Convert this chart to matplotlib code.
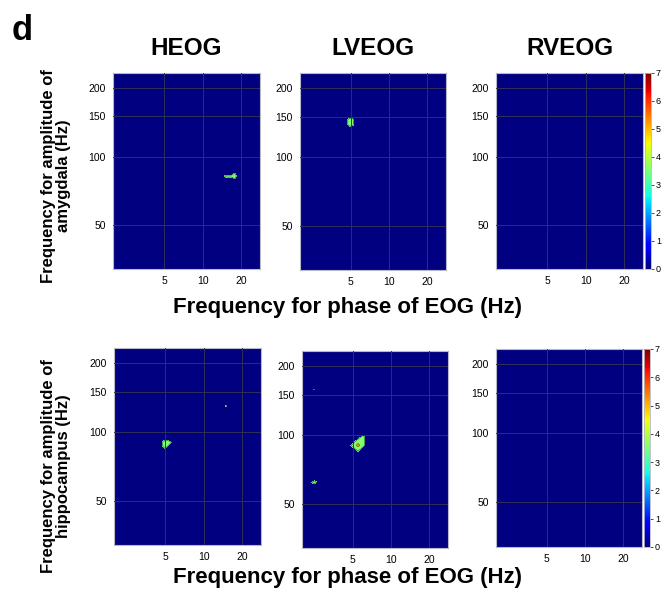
import numpy as np
import matplotlib
matplotlib.use("Agg")
import matplotlib.pyplot as plt
from matplotlib.colors import Normalize
from matplotlib.cm import ScalarMappable

plt.rcParams["font.family"] = ["Liberation Sans", "DejaVu Sans"]

# ---- data -------------------------------------------------------------
channels = ["HEOG", "LVEOG", "RVEOG"]
regions = ["amygdala", "hippocampus"]
phase_ticks = [5, 10, 20]
amp_ticks = [50, 100, 150, 200]
cbar_ticks = [0, 1, 2, 3, 4, 5, 6, 7]

# comodulogram sampling grid (Hz)
phase_hz = np.arange(2.0, 28.5, 0.5)
amp_hz = np.arange(30.0, 238.0, 4.0)

# significant modulation cells: (phase Hz, amplitude Hz, value)
cells_amy_heog = [(15.0, 82, 2.5), (15.5, 82, 2.5), (16.0, 82, 2.5), (16.5, 82, 2.5),
                  (17.0, 82, 2.6), (17.5, 82, 4.0), (18.0, 82, 4.2)]
cells_amy_lveog = [(5.0, 138, 4.0), (5.0, 142, 4.2), (5.0, 146, 4.0)]
cells_amy_rveog = []
cells_hip_heog = [(5.0, 90, 4.2), (5.0, 86, 3.0), (5.5, 90, 2.6), (15.0, 130, 2.6)]
cells_hip_lveog = [(5.5, 90, 5.2), (5.5, 94, 3.6), (6.0, 94, 3.4), (6.0, 98, 3.2),
                   (5.0, 90, 3.0), (6.0, 90, 3.4), (5.5, 86, 2.8),
                   (2.5, 158, 2.15), (2.5, 62, 2.6)]
cells_hip_rveog = []

cells = [[cells_amy_heog, cells_amy_lveog, cells_amy_rveog],
         [cells_hip_heog, cells_hip_lveog, cells_hip_rveog]]

vmin, vmax = 0, 7

# ---- layout -----------------------------------------------------------
W, H = 662, 598
fig = plt.figure(figsize=(W / 100, H / 100), dpi=100)


def rect(l, t, r, b):
    return [l / W, 1 - b / H, (r - l) / W, (b - t) / H]


panel_px = [[(113, 73, 260, 269), (300, 73, 446, 270), (496, 73, 643, 269)],
            [(114, 348, 261, 545), (302, 351, 448, 548), (496, 349, 642, 547)]]
cbar_px = [(645, 73, 651, 269), (644, 349, 650, 547)]

cmap = plt.get_cmap("jet")
norm = Normalize(vmin, vmax)
fill_levels = [2.0, 4.5, 100.0]
fill_colors = [cmap(norm(3.5)), cmap(norm(4.9))]

P, A = np.meshgrid(phase_hz, amp_hz)

for r in range(2):
    for c in range(3):
        ax = fig.add_axes(rect(*panel_px[r][c]))
        ax.set_facecolor(cmap(0.0))
        Z = np.zeros_like(P)
        for ph, am, val in cells[r][c]:
            i = np.argmin(np.abs(amp_hz - am))
            j = np.argmin(np.abs(phase_hz - ph))
            Z[i, j] = val
        if Z.max() > fill_levels[0]:
            ax.contourf(P, A, Z, levels=fill_levels, colors=fill_colors)
            ax.contour(P, A, Z, levels=fill_levels[:2], colors="#103010",
                       linewidths=0.5, alpha=0.7)
        ax.set_xscale("log")
        ax.set_yscale("log")
        ax.set_xlim(2, 28)
        ax.set_ylim(32, 233)
        ax.minorticks_off()
        ax.set_xticks(phase_ticks)
        ax.set_xticklabels([str(t) for t in phase_ticks])
        ax.set_yticks(amp_ticks)
        ax.set_yticklabels([str(t) for t in amp_ticks])
        ax.tick_params(length=0, labelsize=7.5, pad=5)
        ax.grid(True, color="#30305a", linewidth=0.7)
        ax.set_axisbelow(False)
        for s in ax.spines.values():
            s.set_color("#b8b8c8")
            s.set_linewidth(0.8)
        if r == 0:
            l, t, rr, b = panel_px[r][c]
            fig.text((l + rr) / 2 / W, 1 - 55 / H, channels[c], ha="center",
                     va="baseline", fontsize=17.5, fontweight="bold")

    cax = fig.add_axes(rect(*cbar_px[r]))
    cb = fig.colorbar(ScalarMappable(norm=norm, cmap=cmap), cax=cax, ticks=cbar_ticks)
    cb.ax.tick_params(labelsize=6.5, length=2, width=0.5, pad=1.5)
    cb.outline.set_edgecolor("#b8b8c8")
    cb.outline.set_linewidth(0.6)

# axis titles
fig.text(348 / W, 1 - 307 / H, "Frequency for phase of EOG (Hz)", ha="center",
         va="center", fontsize=16, fontweight="bold")
fig.text(348 / W, 1 - 577 / H, "Frequency for phase of EOG (Hz)", ha="center",
         va="center", fontsize=16, fontweight="bold")
fig.text(56 / W, 1 - 176 / H, "Frequency for amplitude of\namygdala (Hz)", ha="center",
         va="center", rotation=90, fontsize=12, fontweight="bold", linespacing=1.05)
fig.text(56 / W, 1 - 466 / H, "Frequency for amplitude of\nhippocampus (Hz)", ha="center",
         va="center", rotation=90, fontsize=12, fontweight="bold", linespacing=1.05)
fig.text(12 / W, 1 - 40 / H, "d", ha="left", va="baseline", fontsize=25, fontweight="bold")

fig.savefig("out.png", dpi=100)
